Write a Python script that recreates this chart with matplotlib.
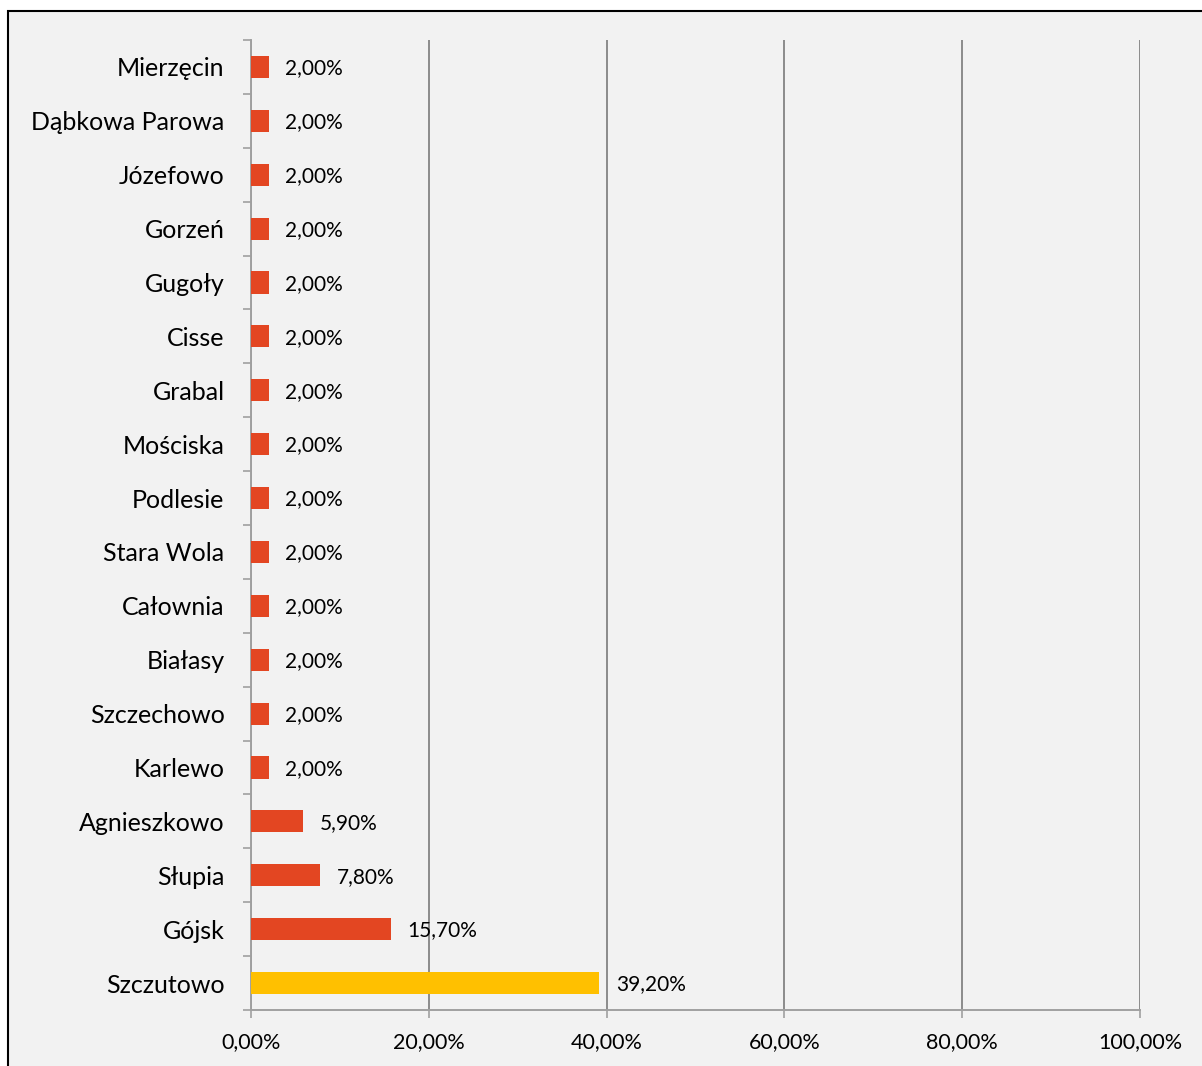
import matplotlib
matplotlib.use("Agg")
import matplotlib.pyplot as plt
from matplotlib.patches import Rectangle
from matplotlib.ticker import FixedLocator, FuncFormatter

# data (top to bottom)
villages = ["Mierzęcin", "Dąbkowa Parowa", "Józefowo", "Gorzeń", "Gugoły",
            "Cisse", "Grabal", "Mościska", "Podlesie", "Stara Wola",
            "Całownia", "Białasy", "Szczechowo", "Karlewo", "Agnieszkowo",
            "Słupia", "Gójsk", "Szczutowo"]
shares = [2.0, 2.0, 2.0, 2.0, 2.0, 2.0, 2.0, 2.0, 2.0, 2.0,
          2.0, 2.0, 2.0, 2.0, 5.9, 7.8, 15.7, 39.2]
highlight = "Szczutowo"
x_ticks = [0, 20, 40, 60, 80, 100]

RED = "#E34622"
YELLOW = "#FFC000"
GRID = "#8C8C8C"
BG = "#F2F2F2"

plt.rcParams["font.family"] = ["Lato", "DejaVu Sans"]

W, H = 1202, 1066
fig = plt.figure(figsize=(W / 100, H / 100), dpi=100, facecolor="white")
# grey chart area with black border on top/left (right/bottom cut off)
fig.patches.append(Rectangle((8 / W, -0.05), 1.1, (H - 11) / H + 0.05,
                             transform=fig.transFigure, facecolor=BG,
                             edgecolor="black", linewidth=1.5, zorder=-5))

ax = fig.add_axes([251 / W, 56 / H, 889 / W, 970 / H])
ax.set_facecolor(BG)

pos = list(range(len(villages)))
colors = [YELLOW if v == highlight else RED for v in villages]
ax.barh(pos, shares, height=0.41, color=colors, zorder=3)

for p, s in zip(pos, shares):
    ax.annotate(f"{s:.2f}%".replace(".", ","), (s, p), xytext=(12, -1),
                textcoords="offset points", va="center", ha="left",
                fontsize=15, color="black")

ax.set_xlim(0, 100)
ax.set_ylim(len(villages) - 0.5, -0.5)

ax.set_yticks(pos)
ax.set_yticklabels(villages, fontsize=18)
ax.yaxis.set_minor_locator(FixedLocator([i - 0.5 for i in range(len(villages) + 1)]))
ax.tick_params(axis="y", which="major", length=0, pad=19)
ax.tick_params(axis="y", which="minor", length=6, width=1.2, color="#A0A0A0")

ax.set_xticks(x_ticks)
ax.xaxis.set_major_formatter(FuncFormatter(lambda v, _: f"{v:.2f}%".replace(".", ",")))
ax.tick_params(axis="x", which="major", length=6, width=1.2, color="#A0A0A0",
               labelsize=15.5, pad=10)

ax.grid(axis="x", color=GRID, linewidth=1.4, zorder=1)
ax.set_axisbelow(True)

for side in ("top", "right"):
    ax.spines[side].set_visible(False)
for side in ("left", "bottom"):
    ax.spines[side].set_color("#A0A0A0")
    ax.spines[side].set_linewidth(1.4)
    ax.spines[side].set_zorder(2)

fig.savefig("out.png", dpi=100, facecolor=fig.get_facecolor())
